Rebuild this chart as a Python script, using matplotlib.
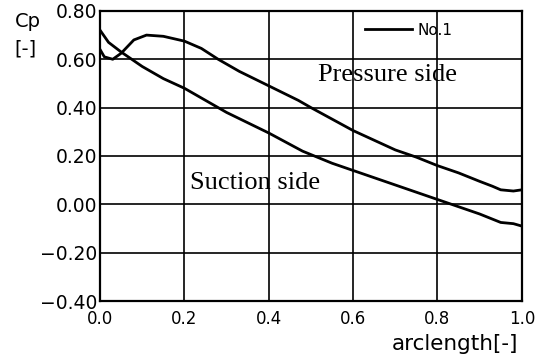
import numpy as np
import matplotlib.pyplot as plt

# pressure side (upper curve near the leading edge bump)
ps_x = [0.0, 0.01, 0.03, 0.05, 0.08, 0.11, 0.15, 0.2, 0.24, 0.28, 0.33, 0.4,
        0.47, 0.5, 0.6, 0.7, 0.75, 0.8, 0.85, 0.9, 0.93, 0.95, 0.98, 1.0]
ps_y = [0.64, 0.61, 0.60, 0.625, 0.68, 0.70, 0.695, 0.675, 0.645, 0.60, 0.55, 0.49,
        0.43, 0.40, 0.305, 0.225, 0.195, 0.16, 0.13, 0.095, 0.075, 0.06, 0.055, 0.06]

# suction side
ss_x = [0.0, 0.02, 0.05, 0.1, 0.15, 0.2, 0.3, 0.4, 0.48, 0.55, 0.6, 0.7,
        0.8, 0.85, 0.9, 0.95, 0.98, 1.0]
ss_y = [0.72, 0.67, 0.63, 0.57, 0.52, 0.48, 0.38, 0.295, 0.22, 0.17, 0.14, 0.08,
        0.02, -0.01, -0.04, -0.075, -0.08, -0.09]

# trailing edge closing segment
te_x = [1.0, 1.0]
te_y = [-0.10, 0.12]

xticks = [0.0, 0.2, 0.4, 0.6, 0.8, 1.0]
yticks = [-0.40, -0.20, 0.00, 0.20, 0.40, 0.60, 0.80]

fig = plt.figure(figsize=(5.47, 3.64), dpi=100)
ax = fig.add_axes([0.183, 0.173, 0.771, 0.797])

ax.plot(ps_x, ps_y, color='black', lw=2.0, label='No.1')
ax.plot(ss_x, ss_y, color='black', lw=2.0)
ax.plot(te_x, te_y, color='black', lw=1.5)

ax.set_xlim(0, 1.0)
ax.set_ylim(-0.4, 0.8)
ax.set_xticks(xticks)
ax.set_yticks(yticks)
ax.set_xticklabels([f"{v:.1f}" for v in xticks], fontsize=12)
ax.set_yticklabels([f"{v:.2f}".replace('-', '\u2212') for v in yticks], fontsize=13.5)
ax.tick_params(length=0)
ax.tick_params(axis='y', pad=2)
ax.tick_params(axis='x', pad=6.5)
ax.grid(True, color='black', lw=1.2)
for s in ax.spines.values():
    s.set_linewidth(1.6)

fig.text(0.027, 0.94, "Cp", fontsize=14, va='center')
fig.text(0.027, 0.865, "[-]", fontsize=14, va='center')
fig.text(0.947, 0.056, "arclength[-]", fontsize=15.5, ha='right', va='center')

ax.text(0.516, 0.535, "Pressure side", family='Liberation Serif', fontsize=19,
        va='center')
ax.text(0.213, 0.09, "Suction side", family='Liberation Serif', fontsize=19,
        va='center')

ax.legend(loc='upper left', frameon=False, handlelength=3.1, fontsize=11,
          handletextpad=0.35, borderpad=0, borderaxespad=0,
          bbox_to_anchor=(0.628, 0.96))

fig.savefig("out.png", dpi=100)
